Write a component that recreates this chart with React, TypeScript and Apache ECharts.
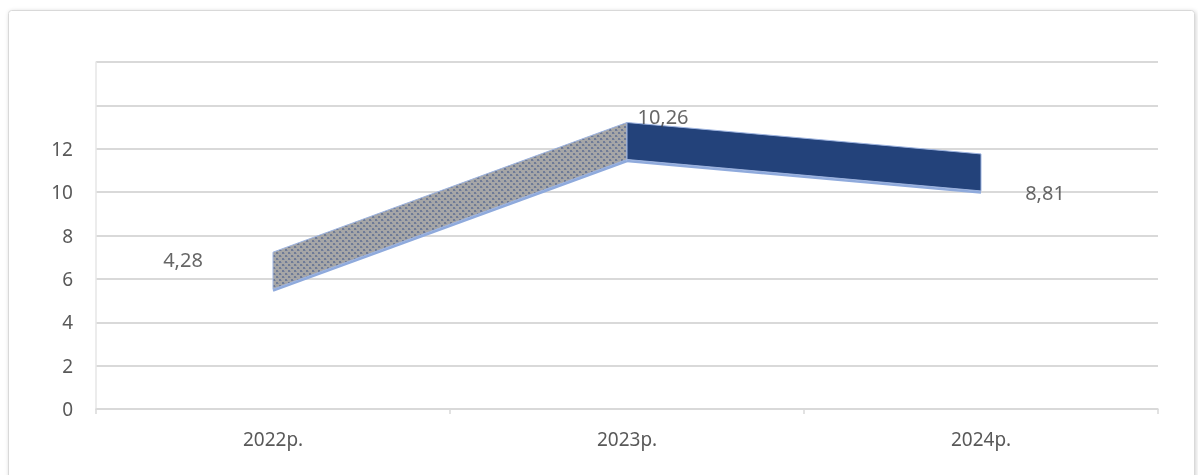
import React, { useEffect, useRef } from "react";
import * as echarts from "echarts";

const categories = ["2022р.", "2023р.", "2024р."];
const values = [4.28, 10.26, 8.81];
const valueLabels = ["4,28", "10,26", "8,81"];
const yTicks = [0, 2, 4, 6, 8, 10, 12];

function makePattern(): string {
  const c = document.createElement("canvas");
  c.width = 6;
  c.height = 6;
  const ctx = c.getContext("2d")!;
  ctx.fillStyle = "#A6A6A6";
  ctx.fillRect(0, 0, 6, 6);
  ctx.fillStyle = "#6F7B96";
  ctx.fillRect(0, 0, 2, 2);
  ctx.fillRect(3, 3, 2, 2);
  ctx.fillStyle = "#8A92A6";
  ctx.fillRect(2, 1, 1, 1);
  ctx.fillRect(5, 4, 1, 1);
  return c.toDataURL();
}

export default function App() {
  const ref = useRef<HTMLDivElement>(null);
  useEffect(() => {
    if (!ref.current) return;
    const chart = echarts.init(ref.current, undefined, { renderer: "svg" });
    const patternUrl = makePattern();
    const segFills: any[] = [
      { image: patternUrl, repeat: "repeat" },
      "#23427A",
    ];
    const segData = values.slice(0, -1).map((v, i) => [i, v, i + 1, values[i + 1]]);
    const LIFT = 27;
    const THICK = 37;
    const labelOffsets = [
      [-90, -57],
      [36, -70],
      [64, -25],
    ];
    chart.setOption({
      animation: false,
      textStyle: { fontFamily: "Noto Sans" },
      graphic: [
        {
          type: "rect",
          shape: { x: 8.5, y: 10.5, width: 1186, height: 480, r: 3 },
          style: {
            fill: "#fff",
            stroke: "#D9D9D9",
            lineWidth: 1,
            shadowBlur: 4,
            shadowColor: "rgba(0,0,0,0.18)",
            shadowOffsetX: 1,
            shadowOffsetY: 1,
          },
          z: -10,
          silent: true,
        },
      ],
      grid: { left: 96, right: 40, top: 62, bottom: 66 },
      xAxis: {
        type: "category",
        data: categories,
        boundaryGap: true,
        axisLine: { lineStyle: { color: "#D9D9D9", width: 1.5 } },
        axisTick: { show: true, length: 5, lineStyle: { color: "#D9D9D9", width: 1.5 } },
        axisLabel: { color: "#595959", fontSize: 19, margin: 20, fontFamily: "Noto Sans" },
      },
      yAxis: {
        type: "value",
        min: 0,
        max: 16,
        interval: 2,
        axisLine: { show: true, lineStyle: { color: "#E6E6E6", width: 1.5 } },
        axisTick: { show: false },
        splitLine: { lineStyle: { color: "#D9D9D9", width: 2 } },
        axisLabel: {
          color: "#595959",
          fontSize: 19,
          margin: 23,
          fontFamily: "Noto Sans",
          formatter: (v: number) => (yTicks.indexOf(v) >= 0 ? String(v) : ""),
        },
      },
      series: [
        {
          type: "custom",
          data: segData,
          encode: { x: [0, 2], y: [1, 3] },
          renderItem: (params: any, api: any) => {
            const i0 = api.value(0);
            const v0 = api.value(1);
            const i1 = api.value(2);
            const v1 = api.value(3);
            const p0 = api.coord([i0, v0]);
            const p1 = api.coord([i1, v1]);
            const b0 = [p0[0], p0[1] - LIFT];
            const b1 = [p1[0], p1[1] - LIFT];
            const t0 = [p0[0], p0[1] - LIFT - THICK];
            const t1 = [p1[0], p1[1] - LIFT - THICK];
            return {
              type: "group",
              children: [
                {
                  type: "polygon",
                  shape: { points: [b0, b1, t1, t0] },
                  style: { fill: segFills[params.dataIndex], stroke: "#9DB3DF", lineWidth: 1 },
                },
                {
                  type: "polyline",
                  shape: { points: [[b0[0], b0[1] + 1.5], [b1[0], b1[1] + 1.5]] },
                  style: { stroke: "#8FAADC", lineWidth: 2.5, fill: "none" },
                },
              ],
            };
          },
          z: 3,
        },
        {
          type: "scatter",
          symbolSize: 0,
          data: values.map((v, i) => ({
            value: [i, v],
            label: {
              show: true,
              formatter: valueLabels[i],
              position: "inside",
              offset: labelOffsets[i],
              color: "#404040",
              fontSize: 20,
              fontFamily: "Noto Sans",
            },
          })),
          z: 5,
        },
      ],
    });
    return () => chart.dispose();
  }, []);
  return (
    <div
      ref={ref}
      style={{ position: "fixed", left: 0, top: 0, width: 1198, height: 475 }}
    />
  );
}
